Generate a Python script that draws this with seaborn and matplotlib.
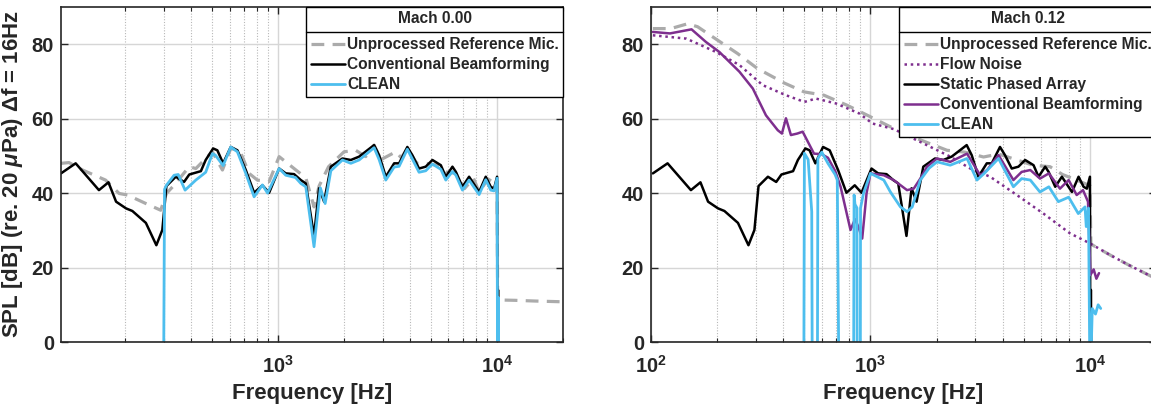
import numpy as np
import matplotlib
matplotlib.use("Agg")
import matplotlib.pyplot as plt
import seaborn as sns
from matplotlib.ticker import FixedLocator, FuncFormatter, LogLocator, NullFormatter
from matplotlib.lines import Line2D

sns.set_theme(style="white")
plt.rcParams['font.family'] = ['Liberation Sans', 'DejaVu Sans']
plt.rcParams['font.weight'] = 'bold'
plt.rcParams['mathtext.fontset'] = 'custom'
plt.rcParams['mathtext.rm'] = 'Liberation Sans:bold'
plt.rcParams['mathtext.bf'] = 'Liberation Sans:bold'
plt.rcParams['mathtext.it'] = 'Liberation Sans:italic:bold'
plt.rcParams['mathtext.sf'] = 'Liberation Sans:bold'

# ---------------- data ----------------
# Static array / conventional beamforming (Mach 0.00), shared by both panels
f_black = [102, 119, 152, 168, 182, 202, 216, 249, 278, 296, 309, 341, 372, 393, 444, 467, 505, 528,
           561, 608, 652, 712, 777, 848, 910, 1011, 1084, 1183, 1270, 1338, 1459, 1539, 1622, 1741,
           1967, 2148, 2344, 2744, 2893, 3103, 3388, 3570, 3892, 4101, 4402, 4722, 5066, 5535, 5832,
           6254, 6484, 6948, 7451, 8279, 8877, 9355, 9686, 10000, 10040, 10100, 10160]
db_black = [45.3, 48.0, 40.8, 42.9, 37.7, 35.9, 35.2, 32.0, 26.0, 30.1, 41.9, 44.4, 43.0, 45.0, 45.9,
            48.9, 52.0, 51.5, 48.0, 52.4, 51.5, 46.2, 40.1, 42.1, 40.1, 46.6, 45.3, 45.1, 43.5, 42.6,
            28.5, 41.3, 37.7, 47.1, 49.3, 48.9, 49.8, 52.9, 50.2, 44.4, 48.0, 48.0, 52.4, 50.2, 46.6,
            47.1, 48.9, 47.5, 44.4, 47.1, 45.7, 41.7, 44.4, 40.3, 44.4, 41.7, 41.2, 44.4, -10, 14, -10]

# Mach 0.00 unprocessed reference mic
f_ref0 = [102, 111, 128, 163, 188, 205, 249, 291, 309, 330, 393, 421, 501, 557, 608, 670, 737, 804,
          910, 1011, 1183, 1338, 1459, 1539, 1700, 2000, 2262, 2513, 2744, 2950, 3449, 3650, 3892,
          4300, 4722, 5300, 5832, 6484, 7100, 7800, 8279, 9100, 9686, 10000, 10060, 12000, 15000, 20000]
db_ref0 = [48.0, 48.2, 46.2, 43.5, 39.9, 39.5, 37.2, 35.4, 39.9, 41.7, 47.1, 46.6, 51.1, 46.2, 52.0,
           51.3, 45.3, 43.5, 43.1, 49.8, 46.6, 44.1, 36.3, 41.9, 47.1, 51.1, 51.5, 49.8, 52.9, 49.0,
           51.1, 49.5, 52.0, 48.0, 48.0, 47.5, 45.7, 45.3, 41.2, 44.0, 40.3, 43.8, 42.7, 43.5, 11.3,
           11.2, 11.0, 10.8]

# Mach 0.00 CLEAN
f_clean0 = [300, 303, 309, 335, 350, 376, 421, 467, 501, 517, 561, 608, 652, 712, 777, 848, 895, 1011,
            1084, 1200, 1270, 1338, 1459, 1560, 1640, 1741, 1967, 2148, 2344, 2744, 2893, 3103, 3388,
            3570, 3892, 4101, 4402, 4722, 5066, 5535, 5832, 6254, 6484, 6948, 7451, 8279, 8877, 9355,
            9686, 10000, 10050, 10120, 10200]
db_clean0 = [-10, 41.0, 42.1, 44.8, 45.0, 40.8, 43.5, 45.6, 50.6, 50.2, 47.4, 52.4, 51.1, 45.3, 39.0,
             42.2, 40.0, 46.6, 44.8, 44.2, 42.6, 41.7, 25.6, 41.4, 37.2, 46.0, 48.9, 48.0, 48.9, 52.2,
             49.0, 43.5, 47.0, 47.2, 51.8, 49.2, 45.6, 46.0, 47.8, 46.4, 43.5, 45.8, 44.8, 40.8, 43.5,
             39.6, 43.6, 40.8, 40.6, 44.0, -10, 12, -10]

# Mach 0.12 unprocessed reference mic
f_ref12 = [102, 123, 147, 163, 201, 248, 305, 404, 498, 614, 783, 1000, 1233, 1500, 1810, 2234, 2700,
           3274, 3833, 4655, 5500, 6577, 7500, 8700, 10000, 10100, 12330, 15000, 20000]
db_ref12 = [84.2, 84.2, 85.5, 84.7, 81.1, 77.5, 73.5, 69.6, 67.2, 66.3, 63.6, 60.5, 57.8, 55.5, 53.6,
            51.5, 51.0, 49.7, 50.5, 48.9, 47.5, 47.1, 45.0, 43.5, 42.0, 26.3, 23.4, 20.7, 17.0]

# Mach 0.12 flow noise
f_flow = [102, 145, 198, 253, 323, 412, 500, 564, 695, 889, 1021, 1276, 1748, 2310, 2850, 3510, 4640,
          6140, 8110, 10000, 12330, 15000, 20000]
db_flow = [82.4, 81.5, 77.9, 74.4, 69.0, 66.3, 64.5, 65.4, 64.1, 61.4, 58.7, 57.2, 53.3, 49.8, 46.6,
           44.4, 39.5, 34.5, 29.2, 26.5, 23.4, 20.7, 17.0]

# Mach 0.12 conventional beamforming
f_cbf = [102, 122, 153, 178, 205, 253, 291, 334, 378, 395, 412, 434, 464, 491, 553, 597, 640, 690, 731,
         811, 850, 880, 917, 960, 1000, 1150, 1276, 1468, 1574, 1687, 1810, 2010, 2310, 2754, 3162,
         3400, 3833, 4480, 4886, 5350, 5920, 6500, 7300, 8000, 8700, 9300, 9800, 10050, 10400, 10700,
         11000]
db_cbf = [83.3, 82.9, 84.0, 80.6, 77.9, 72.6, 68.1, 60.9, 56.9, 56.0, 60.1, 55.6, 56.0, 56.5, 50.6,
          50.5, 49.5, 46.0, 41.7, 30.1, 33.0, 31.0, 27.8, 40.0, 45.3, 44.8, 43.5, 40.8, 41.2, 43.9,
          47.1, 49.3, 48.4, 50.6, 44.8, 46.2, 50.2, 43.5, 45.7, 46.2, 43.9, 45.3, 41.2, 43.5, 39.5,
          40.8, 37.7, 18.0, 19.5, 17.0, 18.5]

# Mach 0.12 CLEAN
f_clean12 = [497, 500, 520, 540, 543, 573, 576, 600, 640, 690, 706, 718, 838, 842, 850, 868, 870, 899,
             901, 930, 1000, 1150, 1233, 1369, 1468, 1550, 1687, 1850, 2010, 2310, 2754, 3056, 3300,
             3833, 4480, 4886, 5350, 5920, 6500, 7180, 8000, 8850, 9500, 9620, 9850, 10000, 10050,
             10250, 10600, 10900, 11200]
db_clean12 = [-10, 50.7, 49.0, 35.0, -10, -10, 49.3, 51.0, 48.0, 45.0, 43.5, -10, -10, 39.5, 37.0,
              36.0, -10, -10, 36.0, 40.0, 45.3, 43.5, 40.3, 36.3, 35.0, 36.3, 43.5, 46.7, 48.4, 47.5,
              49.3, 43.5, 45.3, 49.3, 41.7, 43.9, 43.5, 40.3, 41.7, 37.7, 38.9, 34.5, 36.3, 31.0, 36.0,
              -10, -10, 9.0, 7.5, 10.0, 9.0]

x_ticks = [100, 1000, 10000]
y_ticks = [0, 20, 40, 60, 80]

C_GRAY = '#ababab'
C_CYAN = '#4DBEEE'
C_PURP = '#7E2F8E'
C_AX = '#262626'

# ---------------- figure ----------------
W, H = 1151, 413
fig = plt.figure(figsize=(W / 100, H / 100), dpi=100)
axL = fig.add_axes([61 / W, 71 / H, 502 / W, 335 / H])
axR = fig.add_axes([651 / W, 71 / H, 505 / W, 335 / H])

dash = (0, (4.0, 2.6))
dot = (0, (1.0, 1.5))


def line(ax, f, d, **kw):
    sns.lineplot(x=f, y=d, ax=ax, estimator=None, sort=False, **kw)


# left panel
line(axL, f_ref0, db_ref0, color=C_GRAY, lw=2.3, linestyle=dash, label='Unprocessed Reference Mic.')
line(axL, f_black, db_black, color='black', lw=1.8, label='Conventional Beamforming')
line(axL, f_clean0, db_clean0, color=C_CYAN, lw=2.0, label='CLEAN')

# right panel
line(axR, f_ref12, db_ref12, color=C_GRAY, lw=2.3, linestyle=dash, label='Unprocessed Reference Mic.')
line(axR, f_flow, db_flow, color=C_PURP, lw=1.8, linestyle=dot, label='Flow Noise')
line(axR, f_black, db_black, color='black', lw=1.8, label='Static Phased Array')
line(axR, f_cbf, db_cbf, color=C_PURP, lw=1.8, label='Conventional Beamforming')
line(axR, f_clean12, db_clean12, color=C_CYAN, lw=2.0, label='CLEAN')


def style(ax, xmin):
    ax.set_xscale('log')
    ax.set_xlim(xmin, 20000)
    ax.set_ylim(0, 90)
    ax.yaxis.set_major_locator(FixedLocator(y_ticks))
    ax.xaxis.set_major_locator(FixedLocator(x_ticks))
    ax.xaxis.set_minor_locator(LogLocator(base=10, subs=np.arange(2, 10), numticks=20))
    ax.xaxis.set_minor_formatter(NullFormatter())
    ax.xaxis.set_major_formatter(FuncFormatter(lambda v, p: r'$\mathbf{10^{%d}}$' % round(np.log10(v))))
    ax.set_axisbelow(True)
    ax.grid(which='major', color='#d6d6d6', lw=1.0, ls='-')
    ax.grid(which='minor', axis='x', color='#b8b8b8', lw=0.8, ls=(0, (1, 1.5)))
    ax.tick_params(which='both', direction='in', top=True, right=True, bottom=True, left=True,
                   colors=C_AX, labelcolor=C_AX, labelsize=14.5)
    ax.tick_params(which='major', length=5, width=1.0)
    ax.tick_params(which='minor', length=3, width=0.8)
    ax.tick_params(axis='x', which='major', pad=9)
    ax.tick_params(axis='y', which='major', pad=5)
    for s in ax.spines.values():
        s.set_color(C_AX)
        s.set_linewidth(1.2)
    for t in ax.get_yticklabels():
        t.set_fontweight('bold')
    ax.set_xlabel('Frequency [Hz]', fontsize=16, fontweight='bold', color=C_AX, labelpad=5)
    ax.set_ylabel('')


style(axL, 102)
style(axR, 100)
axL.set_ylabel('SPL [dB] (re. 20 $\\mu$Pa) Δf = 16Hz', fontsize=16, fontweight='bold',
               color=C_AX, labelpad=5)

legs = []
for ax, title in [(axL, 'Mach 0.00'), (axR, 'Mach 0.12')]:
    h, l = ax.get_legend_handles_labels()
    leg = ax.legend(h, l, title=title, loc='upper right', bbox_to_anchor=(1, 1), borderaxespad=0,
                    fancybox=False, edgecolor='black', framealpha=1, fontsize=11.2,
                    title_fontproperties={'weight': 'bold', 'size': 11.2},
                    handlelength=2.2, handletextpad=0.12, labelspacing=0.32, borderpad=0.28)
    leg.get_frame().set_linewidth(1.0)
    for t in leg.get_texts():
        t.set_fontweight('bold')
    leg._legend_box.sep = 8
    legs.append(leg)

fig.canvas.draw()
r = fig.canvas.get_renderer()
inv = fig.transFigure.inverted()
for leg in legs:
    fb = leg.get_window_extent(r)
    tb = leg.get_title().get_window_extent(r)
    hb = leg._legend_handle_box.get_window_extent(r)
    y = (tb.y0 + hb.y1) / 2.0
    (x0, yy), (x1, _) = inv.transform([(fb.x0, y), (fb.x1, y)])
    fig.add_artist(Line2D([x0, x1], [yy, yy], transform=fig.transFigure, color='black', lw=1.0,
                          zorder=10))

fig.savefig('out.png', dpi=100)
